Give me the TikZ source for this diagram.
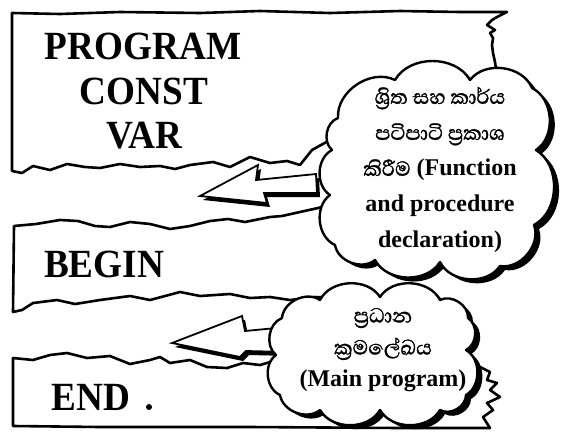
\documentclass[tikz,border=0pt]{standalone}
\usepackage{fontspec}
\setmainfont{Liberation Serif}
\newfontfamily\headfont[FakeStretch=0.93]{Liberation Serif}
\newfontfamily\sinfont[Script=Sinhala,FakeBold=1.2]{Abhaya Libre}
\begin{document}
\begin{tikzpicture}[x=1pt,y=-1pt,
  edge/.style={line width=2.6pt, line join=round, line cap=round},
  heading/.style={font=\headfont\bfseries\fontsize{40}{44}\selectfont, inner sep=0pt, anchor=base},
  cloudtext/.style={align=center, inner sep=0pt},
  puff/.style={line width=2.4pt, line join=round},
  blockarrow/.style={line width=1.8pt, line join=miter},
  % outline of the upper cloud
  cloudA/.style={insert path={(338,118) to[bend left=60] (395,80) to[bend left=60] (470,80)
     to[bend left=60] (532,88) to[bend left=60] (536,150) to[bend left=60] (534,225)
     to[bend left=60] (500,266) to[bend left=60] (440,262) to[bend left=60] (375,260)
     to[bend left=60] (335,245) to[bend left=60] (330,195) to[bend left=60] (332,150)
     to[bend left=60] (338,118) -- cycle}},
  % outline of the lower cloud
  cloudB/.style={insert path={(282,318) to[bend left=60] (320,300) to[bend left=60] (380,297)
     to[bend left=60] (440,300) to[bend left=60] (468,318) to[bend left=60] (466,350)
     to[bend left=60] (466,395) to[bend left=60] (440,410) to[bend left=60] (380,410)
     to[bend left=60] (320,410) to[bend left=60] (280,395) to[bend left=60] (276,355)
     to[bend left=60] (282,318) -- cycle}},
  arrowA/.style={insert path={(200,196) -- (258,165) -- (256,180) -- (316,174) -- (317,193)
     -- (264,193) -- (267,203) -- cycle}},
  arrowB/.style={insert path={(172,343) -- (242,316) -- (245,331) -- (287,327) -- (288,352)
     -- (246,351) -- (240,357) -- cycle}}
]
\useasboundingbox (0,0) rectangle (564,434);

% upper strip: PROGRAM ... VAR
\draw[edge] (330,140) -- (312,150) -- (300,165) -- (287,161) -- (270,163) -- (250,157)
  -- (230,167) -- (213,162) -- (190,165) -- (175,169) -- (160,166) -- (140,167)
  -- (120,164) -- (100,168) -- (85,167) -- (67,164) -- (50,170) -- (33,166)
  -- (22,173) -- (12,171) -- (12,13) -- (60,14) -- (120,12) -- (200,13) -- (260,11)
  -- (330,13) -- (400,11) -- (460,12) -- (507,12) -- (497,17) -- (492,20) -- (487,25)
  -- (495,30) -- (490,33) -- (493,38) -- (492,45) -- (493,53) -- (495,62) -- (497,75);

% middle strip: BEGIN
\draw[edge] (330,205) -- (318,208) -- (300,212) -- (282,216) -- (270,217) -- (245,222)
  -- (228,219) -- (210,221) -- (190,226) -- (170,229) -- (150,224) -- (130,222)
  -- (110,227) -- (95,226) -- (78,221) -- (60,220) -- (36,224) -- (14,226)
  -- (13,312) -- (22,310) -- (33,303) -- (57,300) -- (75,304) -- (100,300)
  -- (130,296) -- (150,300) -- (180,292) -- (200,296) -- (230,294) -- (250,298)
  -- (270,297) -- (290,300) -- (315,297) -- (335,298);

% lower strip: END
\draw[edge] (290,352) -- (283,355) -- (277,360) -- (260,365) -- (243,363) -- (227,368)
  -- (207,367) -- (190,360) -- (170,363) -- (160,357) -- (150,360) -- (130,364)
  -- (110,356) -- (87,358) -- (67,353) -- (50,355) -- (33,360) -- (13,358)
  -- (13,426) -- (100,427) -- (250,427) -- (400,428) -- (490,428) -- (483,417)
  -- (493,410) -- (487,403) -- (500,397) -- (490,390) -- (497,383) -- (487,380)
  -- (490,372) -- (480,367) -- (465,366);

% block arrows with their shadows
\fill[black, shift={(3,4)}, arrowA];
\filldraw[blockarrow, fill=white, arrowA];
\fill[black, shift={(3,4)}, arrowB];
\filldraw[blockarrow, fill=white, arrowB];

% clouds with their shadows
\fill[black, shift={(5,4)}, cloudA];
\filldraw[puff, fill=white, cloudA];
\fill[black, shift={(5,4)}, cloudB];
\filldraw[puff, fill=white, cloudB];

% headings
\node[heading] (prog) at (143,59) {PROGRAM};
\node[heading] (const) at (144,104) {CONST};
\node[heading] (var) at (144,148) {VAR};
\node[heading] (begin) at (104,277) {BEGIN};
\node[heading] (end) at (91,410) {END};
\fill (149,407) circle (3);

% cloud texts
\node[cloudtext, font=\fontsize{24}{36}\selectfont] (decl) at (440,170)
  {{\sinfont\fontsize{26}{36}\selectfont ශ්^^^^200dරිත සහ කාර්ය}\\
   {\sinfont\fontsize{26}{36}\selectfont පටිපාටි ප්^^^^200dරකාශ}\\
   {\sinfont\fontsize{26}{36}\selectfont කිරීම} \textbf{(Function}\\
   \textbf{and procedure}\\
   \textbf{declaration)}};
\node[cloudtext, font=\fontsize{24}{32}\selectfont] (mainp) at (383,350)
  {{\sinfont\fontsize{26}{32}\selectfont ප්^^^^200dරධාන}\\
   {\sinfont\fontsize{26}{32}\selectfont ක්^^^^200dරමලේඛය}\\
   \textbf{(Main program)}};
\end{tikzpicture}
\end{document}
